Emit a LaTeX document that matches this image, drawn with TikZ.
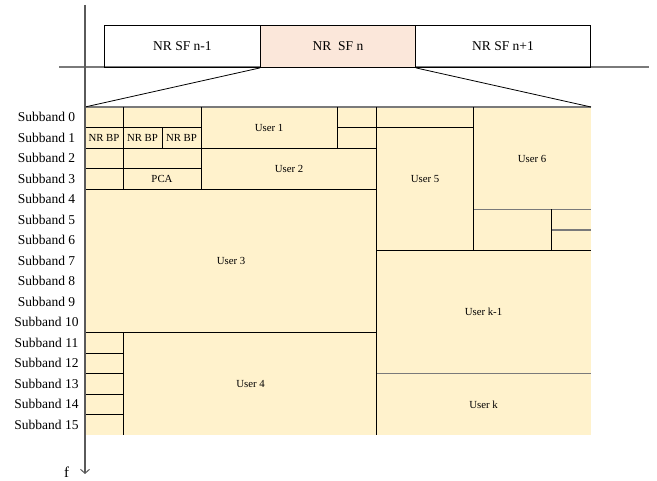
\documentclass[tikz,border=0pt]{standalone}
\usepackage{fontspec}
\setmainfont{Liberation Serif}
\usetikzlibrary{arrows.meta}

\definecolor{gridfill}{HTML}{FFF2CC}
\definecolor{curfill}{HTML}{FBE7DA}
\definecolor{axisgrey}{HTML}{5A5A5A}
\definecolor{edgegrey}{HTML}{7A7A7A}

\tikzset{
  sfbox/.style={draw=black, line width=0.9pt, minimum width=#1, minimum height=42pt,
    inner sep=0pt, font=\fontsize{13.5}{15}\selectfont},
  sublabel/.style={font=\fontsize{13.5}{15}\selectfont, inner sep=0pt},
  celltext/.style={font=\fontsize{10.8}{12}\selectfont, inner sep=0pt},
  divider/.style={draw=black, line width=0.9pt},
  thickdivider/.style={draw=black, line width=1.6pt},
  softdivider/.style={draw=edgegrey, line width=1.2pt},
}

\begin{document}
\begin{tikzpicture}[x=1pt, y=-1pt]
  \useasboundingbox (0,0) rectangle (657,481);

  % time axis with the three sub-frames
  \draw[edgegrey, line width=1.2pt] (59,67) -- (649,67);
  \node[sfbox=156pt, anchor=north west] (sfprev) at (104,25) {NR SF n-1};
  \node[sfbox=155pt, anchor=north west, fill=curfill] (sfcur) at (260,25) {NR\ \ SF n};
  \node[sfbox=175pt, anchor=north west] (sfnext) at (415,25) {NR SF n+1};

  % resource grid area
  \coordinate (gtl) at (85,107);
  \coordinate (gtr) at (591,107);
  \coordinate (gbr) at (591,435);
  \fill[gridfill] (gtl) rectangle (gbr);
  \draw[edgegrey, line width=1.6pt] (gtl) -- (gtr);

  % zoom lines from the current sub-frame to the grid
  \draw[black, line width=0.8pt] (sfcur.south west) -- (gtl);
  \draw[black, line width=0.8pt] (sfcur.south east) -- (gtr);

  % horizontal dividers
  \draw[divider] (85,127.5) -- (201,127.5);
  \draw[divider] (337,127.5) -- (473,127.5);
  \draw[divider] (85,148) -- (376,148);
  \draw[divider] (85,168.5) -- (201,168.5);
  \draw[divider] (85,189) -- (376,189);
  \draw[softdivider] (473,209.5) -- (591,209.5);
  \draw[softdivider] (551,230) -- (591,230);
  \draw[divider] (376,250.5) -- (591,250.5);
  \draw[thickdivider] (85,332.5) -- (376,332.5);
  \foreach \yy in {353,373.5,394,414.5} \draw[divider] (85,\yy) -- (123,\yy);
  \draw[softdivider] (376,373.5) -- (591,373.5);

  % vertical dividers
  \draw[divider] (123,107) -- (123,189);
  \draw[divider] (123,332.5) -- (123,435);
  \draw[divider] (162,127.5) -- (162,148);
  \draw[divider] (201,107) -- (201,189);
  \draw[divider] (337,107) -- (337,148);
  \draw[divider] (376,107) -- (376,435);
  \draw[divider] (473,107) -- (473,250.5);
  \draw[divider] (551,209.5) -- (551,250.5);

  % frequency axis
  \draw[axisgrey, line width=1.4pt, -{Straight Barb[length=4pt, width=9pt, line width=1pt]}] (85,5) -- (85,474);
  \node[font=\fontsize{15}{17}\selectfont, inner sep=0pt, anchor=base] (faxis) at (66.5,477.5) {f};

  % subband labels
  \foreach \i in {0,...,15}
    \node[sublabel] (sb\i) at (46.5,117.25+20.5*\i) {Subband \i};

  % cell contents
  \node[celltext] (bp1) at (104,137.75) {NR BP};
  \node[celltext] (bp2) at (142.5,137.75) {NR BP};
  \node[celltext] (bp3) at (181.5,137.75) {NR BP};
  \node[celltext] (pca) at (162,178.75) {PCA};
  \node[celltext] (user1) at (269,127.5) {User 1};
  \node[celltext] (user2) at (289,168.5) {User 2};
  \node[celltext] (user3) at (231,260.75) {User 3};
  \node[celltext] (user4) at (250.5,383.5) {User 4};
  \node[celltext] (user5) at (425,179.5) {User 5};
  \node[celltext] (user6) at (532,158.5) {User 6};
  \node[celltext] (userkm) at (483.5,312) {User k-1};
  \node[celltext] (userk) at (483.5,404.5) {User k};
\end{tikzpicture}
\end{document}
